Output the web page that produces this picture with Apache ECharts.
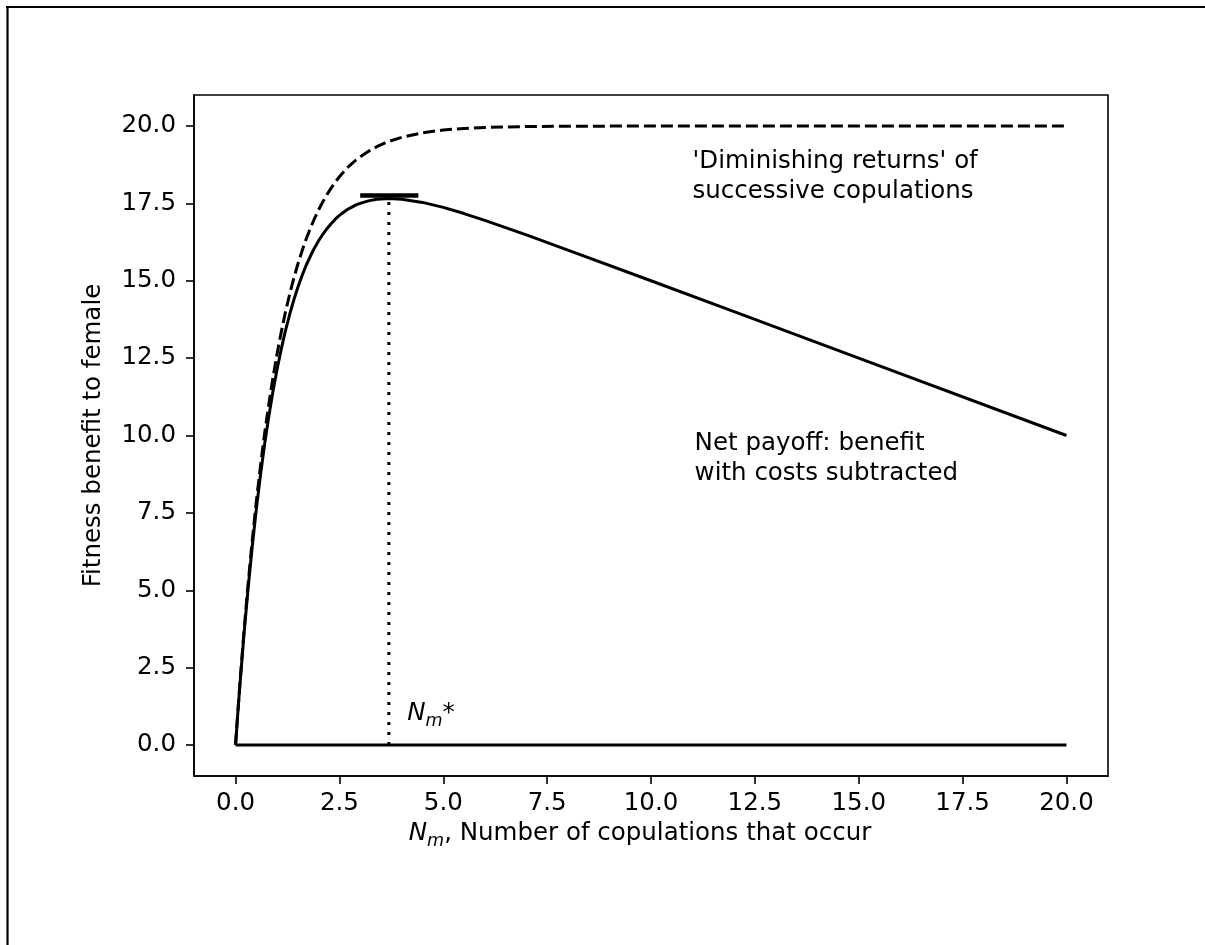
<!DOCTYPE html>
<html>
<head>
<meta charset="utf-8">
<script src="https://cdn.jsdelivr.net/npm/echarts@6/dist/echarts.min.js"></script>
<style>
  html, body { margin: 0; padding: 0; background: #fff; }
  #chart { width: 1205px; height: 945px; }
</style>
</head>
<body>
<div id="chart"></div>
<script>
// Number of copulations (x) at which the curves are sampled
const copulations = [0, 0.05, 0.1, 0.2, 0.3, 0.4, 0.5, 0.6, 0.7, 0.8, 0.9, 1.0,
  1.1, 1.2, 1.3, 1.4, 1.5, 1.6, 1.7, 1.8, 1.9, 2.0, 2.1, 2.2, 2.3, 2.4, 2.5, 2.6, 2.7, 2.8, 2.9, 3.0,
  3.2, 3.4, 3.6, 3.69, 4.0, 4.5, 5.0, 5.5, 6, 7, 8, 10, 12, 15, 20];
// Gross benefit: diminishing returns of successive copulations (dashed)
const grossBenefit = [0, 0.98, 1.90, 3.63, 5.18, 6.59, 7.87, 9.02, 10.07, 11.01, 11.87, 12.64,
  13.34, 13.98, 14.55, 15.07, 15.54, 15.96, 16.35, 16.69, 17.01, 17.29, 17.55, 17.78, 17.99, 18.19, 18.36, 18.51, 18.66, 18.78, 18.90, 19.00,
  19.18, 19.33, 19.45, 19.50, 19.63, 19.78, 19.87, 19.92, 19.95, 19.98, 19.99, 20.00, 20.00, 20.00, 20.00];
// Net payoff: benefit with costs subtracted (solid)
const netPayoff = [0, 0.95, 1.85, 3.53, 5.03, 6.39, 7.62, 8.72, 9.72, 10.61, 11.42, 12.14,
  12.79, 13.38, 13.90, 14.37, 14.79, 15.16, 15.50, 15.79, 16.06, 16.29, 16.50, 16.68, 16.84, 16.99, 17.11, 17.21, 17.31, 17.38, 17.45, 17.50,
  17.58, 17.63, 17.65, 17.66, 17.63, 17.53, 17.37, 17.17, 16.95, 16.48, 15.99, 15.00, 14.00, 12.50, 10.00];
// Zero line across the whole range
const zeroLineX = [0, 20];
const zeroLineY = [0, 0];
// Optimum N_m*
const optimumX = 3.69;
const optimumY = 17.66;
const optimumBarY = 17.75;
const optimumBarX = [3.0, 4.4];
// Tick values
const xTickValues = [0, 2.5, 5, 7.5, 10, 12.5, 15, 17.5, 20];
const yTickValues = [0, 2.5, 5, 7.5, 10, 12.5, 15, 17.5, 20];

const FONT = 'DejaVu Sans';
const FS = 24.5;
const INK = '#000';

const pairs = (xs, ys) => xs.map((x, i) => [x, ys[i]]);

const chart = echarts.init(document.getElementById('chart'), null, { renderer: 'canvas' });

const frameAxisLine = { show: true, onZero: false, lineStyle: { color: INK, width: 1.6 } };

chart.setOption({
  animation: false,
  backgroundColor: '#fff',
  grid: {
    left: 194, right: 97, top: 95, bottom: 169,
    show: true, borderColor: INK, borderWidth: 1.6, backgroundColor: 'transparent'
  },
  xAxis: {
    type: 'value', min: -1, max: 21,
    axisLine: frameAxisLine,
    splitLine: { show: false },
    axisTick: { show: true, customValues: xTickValues, length: 8, lineStyle: { color: INK, width: 1.6 } },
    axisLabel: {
      customValues: xTickValues, margin: 15,
      formatter: v => v.toFixed(1),
      fontFamily: FONT, fontSize: FS, color: INK
    },
    name: '{it|N}{sub|m}{n|, Number of copulations that occur}',
    nameLocation: 'middle', nameGap: 40,
    nameTextStyle: {
      padding: [0, 22, 0, 0],
      rich: {
        it: { fontFamily: FONT, fontStyle: 'italic', fontSize: FS, color: INK, lineHeight: 34, verticalAlign: 'middle' },
        sub: { fontFamily: FONT, fontStyle: 'italic', fontSize: 17.5, color: INK, lineHeight: 16, verticalAlign: 'bottom' },
        n: { fontFamily: FONT, fontSize: FS, color: INK, lineHeight: 34, verticalAlign: 'middle' }
      }
    }
  },
  yAxis: {
    type: 'value', min: -1, max: 21,
    axisLine: frameAxisLine,
    splitLine: { show: false },
    axisTick: { show: true, customValues: yTickValues, length: 8, lineStyle: { color: INK, width: 1.6 } },
    axisLabel: {
      customValues: yTickValues, margin: 18,
      formatter: v => v.toFixed(1),
      fontFamily: FONT, fontSize: FS, color: INK
    },
    name: 'Fitness benefit to female',
    nameLocation: 'middle', nameGap: 88, nameRotate: 90,
    nameTextStyle: { fontFamily: FONT, fontSize: FS, color: INK }
  },
  series: [
    {
      name: 'Diminishing returns', type: 'line', data: pairs(copulations, grossBenefit),
      showSymbol: false, z: 3,
      lineStyle: { color: INK, width: 3, type: [12, 5], join: 'round' }
    },
    {
      name: 'Net payoff', type: 'line', data: pairs(copulations, netPayoff),
      showSymbol: false, z: 3,
      lineStyle: { color: INK, width: 3, join: 'round' }
    },
    {
      name: 'Zero', type: 'line', data: pairs(zeroLineX, zeroLineY),
      showSymbol: false, z: 3,
      lineStyle: { color: INK, width: 3 }
    },
    {
      name: 'Optimum drop', type: 'line', data: [[optimumX, 0], [optimumX, optimumY]],
      showSymbol: false, z: 2,
      lineStyle: { color: INK, width: 3, type: [3, 7] }
    },
    {
      name: 'Optimum bar', type: 'line', data: [[optimumBarX[0], optimumBarY], [optimumBarX[1], optimumBarY]],
      showSymbol: false, z: 4,
      lineStyle: { color: INK, width: 4.5 }
    }
  ]
});

// Annotations anchored in data coordinates
const toPx = p => chart.convertToPixel({ gridIndex: 0 }, p);
const dimPos = toPx([11, 19.34]);
const netPos = toPx([11.05, 10.23]);
const starPos = toPx([4.13, 1.02]);

chart.setOption({
  graphic: [
    // figure frame (left and top edges)
    { type: 'line', shape: { x1: 7.5, y1: 6, x2: 7.5, y2: 945 }, style: { stroke: INK, lineWidth: 2.2 } },
    { type: 'line', shape: { x1: 6, y1: 7, x2: 1205, y2: 7 }, style: { stroke: INK, lineWidth: 2.2 } },
    {
      type: 'text', x: dimPos[0], y: dimPos[1],
      style: {
        text: "'Diminishing returns' of\nsuccessive copulations",
        fontFamily: FONT, fontSize: FS, fill: INK, lineHeight: 30,
        textAlign: 'left', textVerticalAlign: 'top'
      }
    },
    {
      type: 'text', x: netPos[0], y: netPos[1],
      style: {
        text: 'Net payoff: benefit\nwith costs subtracted',
        fontFamily: FONT, fontSize: FS, fill: INK, lineHeight: 30,
        textAlign: 'left', textVerticalAlign: 'top'
      }
    },
    {
      type: 'text', x: starPos[0], y: starPos[1],
      style: {
        text: '{it|N}{sub|m}{n|*}',
        textAlign: 'left', textVerticalAlign: 'middle',
        rich: {
          it: { fontFamily: FONT, fontStyle: 'italic', fontSize: FS, fill: INK, lineHeight: 34, verticalAlign: 'middle' },
          sub: { fontFamily: FONT, fontStyle: 'italic', fontSize: 17.5, fill: INK, lineHeight: 16, verticalAlign: 'bottom' },
          n: { fontFamily: FONT, fontSize: FS, fill: INK, lineHeight: 34, verticalAlign: 'middle' }
        }
      }
    }
  ]
});
</script>
</body>
</html>
